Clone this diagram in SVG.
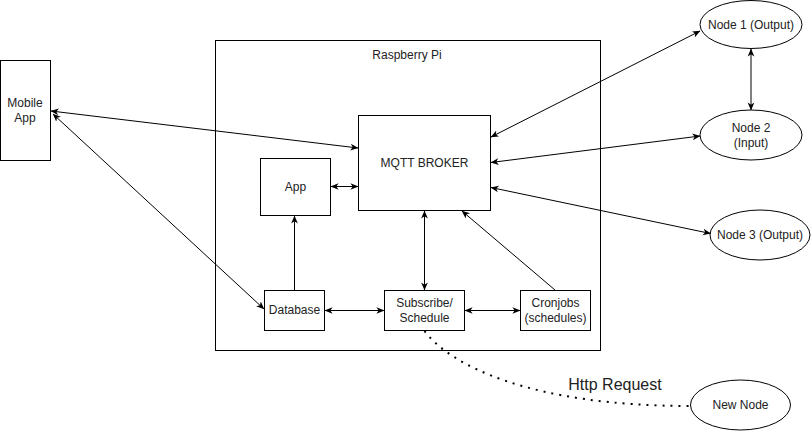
<svg xmlns="http://www.w3.org/2000/svg" width="811" height="431" viewBox="0 0 811 431">
<style>
.box{fill:#fff;stroke:#000;stroke-width:1}
.t{font-family:"Liberation Sans",Arial,sans-serif;font-size:12px;fill:#222;text-anchor:middle}
.big{font-size:16px}
.c{fill:none;stroke:#000;stroke-width:1}
.a2{marker-start:url(#ah);marker-end:url(#ah)}
.a1{marker-end:url(#ah)}
.dot{fill:none;stroke:#000;stroke-width:2;stroke-dasharray:2 6}
</style>
<defs>
<marker id="ah" viewBox="0 0 10 10" refX="9.5" refY="5" markerWidth="8" markerHeight="8" markerUnits="userSpaceOnUse" orient="auto-start-reverse">
<path d="M0,0.8 L10,5 L0,9.2 L2.8,5 z" fill="#000"/>
</marker>
</defs>
<rect width="811" height="431" fill="#fff"/>
<g id="raspberry-pi">
<rect class="box" x="215.5" y="40.5" width="385" height="310"/>
<text class="t" x="407" y="59">Raspberry Pi</text>
</g>
<g id="mobile-app">
<rect class="box" x="0.5" y="60.5" width="50" height="100"/>
<text class="t" x="25" y="107">Mobile</text>
<text class="t" x="25" y="122">App</text>
</g>
<g id="mqtt-broker">
<rect class="box" x="358.5" y="115.5" width="132" height="95"/>
<text class="t" x="424.5" y="167">MQTT BROKER</text>
</g>
<g id="app">
<rect class="box" x="260.5" y="158.5" width="70" height="57"/>
<text class="t" x="295.5" y="191">App</text>
</g>
<g id="database">
<rect class="box" x="264.5" y="290.5" width="60" height="40"/>
<text class="t" x="294.5" y="314">Database</text>
</g>
<g id="subscribe-schedule">
<rect class="box" x="384.5" y="290.5" width="80" height="40"/>
<text class="t" x="424.5" y="307">Subscribe/</text>
<text class="t" x="424.5" y="322">Schedule</text>
</g>
<g id="cronjobs">
<rect class="box" x="520.5" y="290.5" width="70" height="40"/>
<text class="t" x="555.5" y="307">Cronjobs</text>
<text class="t" x="555.5" y="322">(schedules)</text>
</g>
<g id="node1">
<ellipse class="box" cx="751" cy="24.5" rx="51" ry="24"/>
<text class="t" x="751" y="29">Node 1 (Output)</text>
</g>
<g id="node2">
<ellipse class="box" cx="751" cy="135" rx="51" ry="25"/>
<text class="t" x="751" y="132">Node 2</text>
<text class="t" x="751" y="147">(Input)</text>
</g>
<g id="node3">
<ellipse class="box" cx="760" cy="235" rx="50" ry="25"/>
<text class="t" x="760" y="239">Node 3 (Output)</text>
</g>
<g id="new-node">
<ellipse class="box" cx="740.5" cy="405" rx="50" ry="25"/>
<text class="t" x="740.5" y="409">New Node</text>
</g>
<g id="connectors">
<line class="c a2" x1="51" y1="111" x2="358" y2="148"/>
<line class="c a2" x1="53" y1="114" x2="264" y2="309"/>
<line class="c a2" x1="331" y1="186.5" x2="358" y2="186.5"/>
<line class="c a1" x1="294.5" y1="290" x2="294.5" y2="216"/>
<line class="c a2" x1="424.5" y1="211" x2="424.5" y2="290"/>
<line class="c a2" x1="325" y1="310.5" x2="384" y2="310.5"/>
<line class="c a2" x1="465" y1="310.5" x2="520" y2="310.5"/>
<line class="c a1" x1="555" y1="290" x2="462" y2="211"/>
<line class="c a2" x1="491" y1="137" x2="700" y2="31"/>
<line class="c a2" x1="491" y1="162.5" x2="700" y2="136"/>
<line class="c a2" x1="491" y1="187.5" x2="710.5" y2="233.5"/>
<line class="c a2" x1="751" y1="49" x2="751" y2="110"/>
<path class="dot" d="M424.5,331 C450,365 530,406 690,406"/>
<text class="t big" x="615" y="390">Http Request</text>
</g>
</svg>
